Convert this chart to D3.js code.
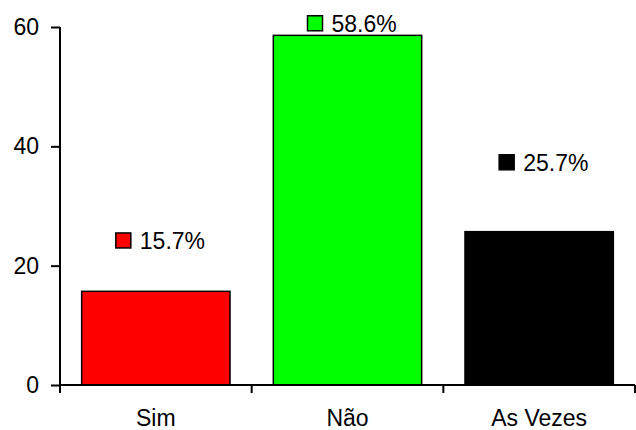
<!DOCTYPE html>
<html>
<head>
<meta charset="utf-8">
<script src="https://cdn.jsdelivr.net/npm/d3@7"></script>
<style>
  body { margin: 0; background: #fff; }
  text { font-family: Arial, "Liberation Sans", sans-serif; }
</style>
</head>
<body>
<svg id="chart" width="636" height="430"></svg>
<script>
var categories = ['Sim', 'Não', 'As Vezes']
var values = [15.7, 58.6, 25.7]
var colors = ['#ff0000', '#00ff00', '#000000']
var labels = ['15.7%', '58.6%', '25.7%']
// where each value tag sits, in data units
var labelAt = [22.8, 59.2, 35.9]
var yTicks = [0, 20, 40, 60]

var svg = d3.select('#chart')
var plotLeft = 60, plotRight = 635, plotTop = 27, plotBottom = 385

var x = d3.scaleBand().domain(categories).range([plotLeft, plotRight]).paddingInner(0.226).paddingOuter(0.113)
var y = d3.scaleLinear().domain([0, 60]).range([plotBottom, plotTop])

// bars
svg.selectAll('rect.bar').data(values).enter()
  .append('rect')
  .attr('class', 'bar')
  .attr('x', function(d, i){ return x(categories[i]) })
  .attr('y', function(d){ return y(d) })
  .attr('width', x.bandwidth())
  .attr('height', function(d){ return y(0) - y(d) })
  .attr('fill', function(d, i){ return colors[i] })
  .attr('stroke', '#000')
  .attr('stroke-width', 1.5)

// y axis
var yAxis = svg.append('g')
  .attr('transform', 'translate(' + plotLeft + ',0)')
  .call(d3.axisLeft(y).tickValues(yTicks).tickSize(9).tickPadding(12).tickFormat(d3.format('d')))
yAxis.select('.domain').attr('stroke-width', 2).attr('d', 'M0,' + y(60) + 'V' + y(0))
yAxis.selectAll('line').attr('stroke-width', 2)
yAxis.selectAll('text').attr('font-size', '23px').attr('fill', '#000')
  .attr('font-family', 'Arial, "Liberation Sans", sans-serif')

// x axis
var xAxis = svg.append('g')
  .attr('transform', 'translate(0,' + plotBottom + ')')
  .call(d3.axisBottom(x).tickSize(0).tickPadding(25))
xAxis.select('.domain').attr('stroke-width', 2).attr('d', 'M' + plotLeft + ',0H' + plotRight)
xAxis.selectAll('text').attr('font-size', '23px').attr('fill', '#000')
  .attr('font-family', 'Arial, "Liberation Sans", sans-serif')

// x tick marks between bands
var edges = categories.map(function(c){ return x(c) - x.step() * x.paddingOuter() })
edges.push(plotRight)
svg.selectAll('line.xt').data(edges).enter()
  .append('line')
  .attr('class', 'xt')
  .attr('x1', function(d){ return d }).attr('x2', function(d){ return d })
  .attr('y1', plotBottom).attr('y2', plotBottom + 8)
  .attr('stroke', '#000').attr('stroke-width', 2)

// value tags with colour key
var tags = svg.selectAll('g.tag').data(values).enter()
  .append('g')
  .attr('class', 'tag')
  .attr('transform', function(d, i){
    return 'translate(' + (x(categories[i]) + x.bandwidth() / 2 - 40) + ',' + y(labelAt[i]) + ')'
  })
tags.append('rect')
  .attr('x', 0).attr('y', -16)
  .attr('width', 15).attr('height', 15)
  .attr('fill', function(d, i){ return colors[i] })
  .attr('stroke', '#000').attr('stroke-width', 1.5)
tags.append('text')
  .attr('x', 24).attr('y', 0)
  .attr('font-size', '23px')
  .attr('fill', '#000')
  .text(function(d, i){ return labels[i] })
</script>
</body>
</html>
